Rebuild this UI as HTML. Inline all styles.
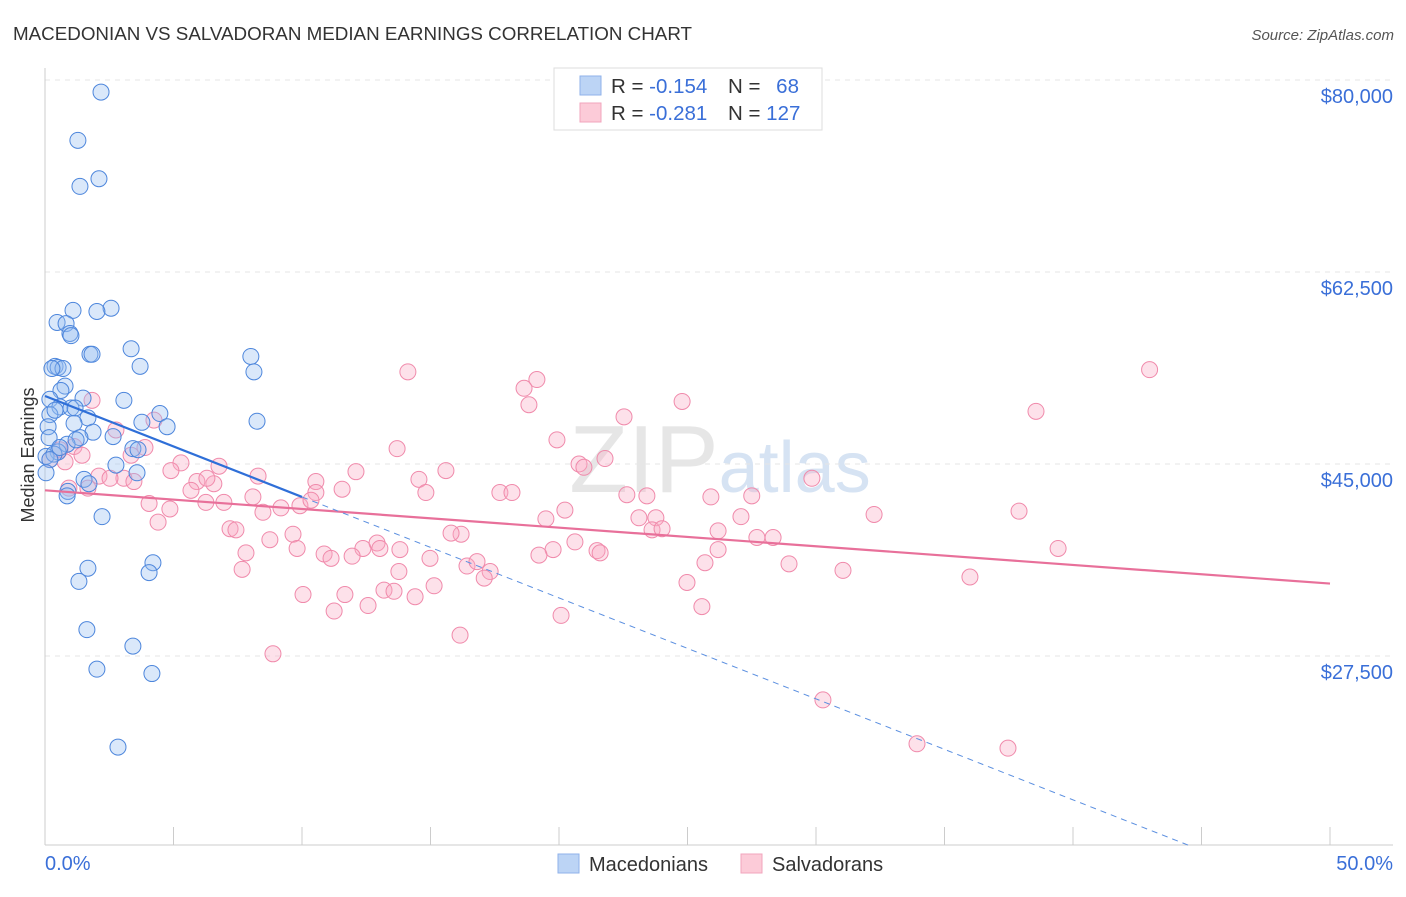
<!DOCTYPE html>
<html><head><meta charset="utf-8"><style>
body{margin:0;background:#fff;font-family:"Liberation Sans",sans-serif;}
svg text{font-family:"Liberation Sans",sans-serif;}
</style></head><body>
<svg id="chart" width="1406" height="892" viewBox="0 0 1406 892" xmlns="http://www.w3.org/2000/svg">
<text x="13" y="40" font-size="18.8" fill="#333">MACEDONIAN VS SALVADORAN MEDIAN EARNINGS CORRELATION CHART</text>
<text x="1394" y="40" font-size="15" fill="#555" text-anchor="end" font-style="italic">Source: ZipAtlas.com</text>
<text x="720" y="492" font-size="96" fill="#e6e6e6" text-anchor="middle" font-family="Liberation Serif"><tspan>ZIP</tspan><tspan fill="#d6e3f3" font-family="Liberation Sans" font-size="72">atlas</tspan></text>
<g id="grid"></g>
<g id="axes"></g>
<g id="pts"></g>
<g id="trends"></g>
<text transform="translate(34,455) rotate(-90)" font-size="18" fill="#333" text-anchor="middle">Median Earnings</text>
<g>
<rect x="554" y="68" width="268" height="62" fill="#fff" stroke="#ddd"/>
<rect x="580" y="76" width="21" height="19" fill="#bcd4f5" stroke="#8fb2ea"/>
<rect x="580" y="103" width="21" height="19" fill="#fccbd8" stroke="#f2a5bd"/>
<text x="611" y="93" font-size="20.5" fill="#333">R = <tspan fill="#3a6fd8">-0.154</tspan></text>
<text x="728" y="93" font-size="20.5" fill="#333">N = <tspan fill="#3a6fd8" dx="10">68</tspan></text>
<text x="611" y="120" font-size="20.5" fill="#333">R = <tspan fill="#3a6fd8">-0.281</tspan></text>
<text x="728" y="120" font-size="20.5" fill="#333">N = <tspan fill="#3a6fd8">127</tspan></text>
</g>
<g>
<rect x="558" y="854" width="21" height="19" fill="#bcd4f5" stroke="#8fb2ea"/>
<text x="589" y="871" font-size="20" fill="#333">Macedonians</text>
<rect x="741" y="854" width="21" height="19" fill="#fccbd8" stroke="#f2a5bd"/>
<text x="772" y="871" font-size="20" fill="#333">Salvadorans</text>
</g>
<text x="45" y="870" font-size="20" fill="#3a6fd8">0.0%</text>
<text x="1393" y="870" font-size="20" fill="#3a6fd8" text-anchor="end">50.0%</text>
</svg>
<script>
const yTicks=[80000,62500,45000,27500];
const yTickLabels=["$80,000","$62,500","$45,000","$27,500"];
const xTicks=[0,5,10,15,20,25,30,35,40,45,50];
const blueX=[2.18,1.28,2.10,1.36,2.57,1.09,2.02,0.47,0.82,0.97,1.01,1.75,1.83,3.35,8.01,0.39,0.51,0.70,3.70,8.13,0.27,0.78,0.62,1.48,3.07,0.19,0.58,1.01,1.17,4.47,3.77,8.25,0.19,1.67,1.13,4.75,0.12,1.87,1.36,2.65,0.16,0.86,0.51,3.42,3.62,0.04,0.35,2.76,3.58,1.52,1.71,0.89,0.86,2.22,4.20,1.67,4.05,1.32,1.63,3.42,2.02,4.16,2.84,0.19,0.58,0.04,0.39,1.21];
const blueY=[78.9,74.5,71.0,70.3,59.2,59.0,58.9,57.9,57.8,56.9,56.7,55.0,55.0,55.5,54.8,53.9,53.8,53.7,53.9,53.4,53.7,52.1,51.7,51.0,50.8,50.9,50.2,50.1,50.1,49.6,48.8,48.9,49.5,49.2,48.7,48.4,48.4,47.9,47.4,47.5,47.4,46.8,46.1,46.4,46.3,45.7,45.9,44.9,44.2,43.6,43.2,42.5,42.1,40.2,36.0,35.5,35.1,34.3,29.9,28.4,26.3,25.9,19.2,45.4,46.5,44.2,49.9,47.2];
const pinkX=[14.12,42.98,19.14,18.64,18.83,24.79,38.56,22.53,4.24,1.83,3.89,2.76,19.92,13.70,1.13,3.35,5.29,6.77,8.29,4.90,20.78,21.79,20.97,15.60,12.10,14.55,3.07,2.10,3.46,5.91,10.54,6.57,5.68,14.82,17.70,18.17,22.64,23.42,25.91,27.50,8.09,10.54,11.56,4.05,6.26,6.96,4.86,8.48,9.18,9.92,10.35,20.23,19.49,23.11,23.77,27.08,29.84,32.26,37.90,4.40,7.20,7.43,9.65,8.75,12.92,12.37,13.03,16.19,15.80,26.19,28.33,27.70,23.62,24.01,7.82,9.81,10.86,11.13,11.95,13.81,14.98,19.77,19.22,20.62,21.48,21.60,26.19,39.42,7.67,16.42,16.81,17.32,17.09,25.68,28.95,31.05,35.99,13.77,15.14,10.04,11.67,13.19,13.58,14.40,12.57,11.25,24.98,25.56,20.08,16.15,8.87,30.27,33.93,37.47,0.19,0.58,0.78,1.44,2.53,0.93,1.67,6.30];
const pinkY=[53.4,53.6,52.7,51.9,50.4,50.7,49.8,49.3,49.0,50.8,46.5,48.1,47.2,46.4,46.6,45.8,45.1,44.8,43.9,44.4,45.0,45.5,44.7,44.4,44.3,43.6,43.7,43.9,43.4,43.4,43.4,43.2,42.6,42.4,42.4,42.4,42.2,42.1,42.0,42.1,42.0,42.4,42.7,41.4,41.5,41.5,40.9,40.6,41.0,41.2,41.7,40.8,40.0,40.1,40.1,40.2,43.7,40.4,40.7,39.7,39.1,39.0,38.6,38.1,37.8,37.3,37.3,38.6,38.7,38.9,38.3,38.3,39.0,39.1,36.9,37.3,36.8,36.4,36.6,37.2,36.4,37.2,36.7,37.9,37.1,36.9,37.2,37.3,35.4,35.7,36.1,35.2,34.6,36.0,35.9,35.3,34.7,35.2,33.9,33.1,33.1,33.5,33.4,32.9,32.1,31.6,34.2,32.0,31.2,29.4,27.7,23.5,19.5,19.1,45.4,46.3,45.2,45.8,43.7,42.8,42.8,43.7];
const blueTrend=[0,51.2,10,42.0,44.55,10.2];
const pinkTrend=[0,42.6,50,34.1];
const NS="http://www.w3.org/2000/svg";
const X=v=>45+v*25.7;
const Y=k=>80+(80-k)*1000/17500*192;
function mk(tag,attrs,parent){const e=document.createElementNS(NS,tag);for(const k in attrs)e.setAttribute(k,attrs[k]);document.getElementById(parent).appendChild(e);return e;}
yTicks.forEach((t,i)=>{
  const y=Y(t/1000);
  const g=mk('line',{x1:45,x2:1393,y1:y,y2:y,stroke:'#e6e6e6','stroke-dasharray':'5,5'},'grid');
  
  
  const l=mk('text',{x:1393,y:y+23,'font-size':20,fill:'#3a6fd8','text-anchor':'end'},'grid');
  l.textContent=yTickLabels[i];
  
  
});
const ax=mk('line',{x1:45,x2:45,y1:68,y2:845,stroke:'#ccc'},'axes');


const bx=mk('line',{x1:45,x2:1393,y1:845,y2:845,stroke:'#ccc'},'axes');


xTicks.forEach(t=>{
  const tk=mk('line',{x1:X(t),x2:X(t),y1:827,y2:845,stroke:'#ccc'},'axes');
  
  
});
pinkX.forEach((v,i)=>{
  const c=mk('circle',{cx:X(v),cy:Y(pinkY[i]),r:8,fill:'rgba(248,170,195,0.35)',stroke:'#f08aab','stroke-width':1},'pts');
  
  
});
blueX.forEach((v,i)=>{
  const c=mk('circle',{cx:X(v),cy:Y(blueY[i]),r:8,fill:'rgba(150,190,240,0.35)',stroke:'#4d86dc','stroke-width':1},'pts');
  
  
});
const pl=mk('line',{x1:X(pinkTrend[0]),y1:Y(pinkTrend[1]),x2:X(pinkTrend[2]),y2:Y(pinkTrend[3]),stroke:'#e8709a','stroke-width':2.2},'trends');


const bl=mk('line',{x1:X(blueTrend[0]),y1:Y(blueTrend[1]),x2:X(blueTrend[2]),y2:Y(blueTrend[3]),stroke:'#2f6fd8','stroke-width':2.2},'trends');


const bd=mk('line',{x1:X(blueTrend[2]),y1:Y(blueTrend[3]),x2:X(blueTrend[4]),y2:Y(blueTrend[5]),stroke:'#5b8fe0','stroke-width':1,'stroke-dasharray':'6,5'},'trends');


</script>
</body></html>
